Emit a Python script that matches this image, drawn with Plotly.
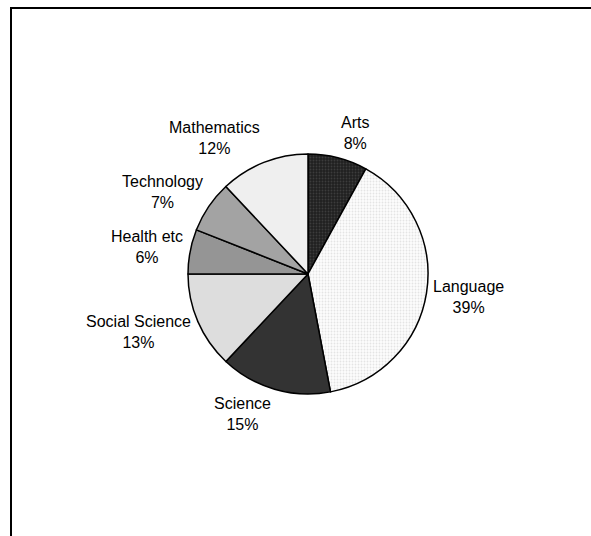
import math
import plotly.graph_objects as go

# Share of enrolments by subject area (percent)
subjects = ["Arts", "Language", "Science", "Social Science",
            "Health etc", "Technology", "Mathematics"]
shares = [8, 39, 15, 13, 6, 7, 12]

fills = ["#202020", "#fdfdfd", "#333333", "#dddddd",
         "#959595", "#a3a3a3", "#efefef"]
pattern_shapes = [".", ".", "", "", "", "", ""]
pattern_fg = ["#3c3c3c", "#e4e4e4", "#333333", "#dddddd",
              "#959595", "#a3a3a3", "#efefef"]

W, H = 591, 536
cx, cy, r = 308, 274, 120
label_gap = 5
font_size = 16
label_half_height = font_size * 1.3  # two-line label, half its height
font = dict(family="Arial, Liberation Sans, sans-serif", size=font_size, color="black")

fig = go.Figure(go.Pie(
    labels=subjects,
    values=shares,
    sort=False,
    direction="clockwise",
    rotation=0,
    textinfo="none",
    marker=dict(
        colors=fills,
        line=dict(color="black", width=1.5),
        pattern=dict(shape=pattern_shapes, fgcolor=pattern_fg,
                     bgcolor=fills, size=3, solidity=0.3),
    ),
    showlegend=False,
    hoverinfo="label+percent",
    domain=dict(x=[(cx - r) / W, (cx + r) / W],
                y=[(H - cy - r) / H, (H - cy + r) / H]),
))

# Category labels sit just outside the rim at each slice's mid-angle,
# pushed away from the pie so they never overlap it.
total = sum(shares)
annotations = []
cum = 0
for name, v in zip(subjects, shares):
    mid = (cum + v / 2) / total * 2 * math.pi
    cum += v
    s, c = math.sin(mid), math.cos(mid)
    px = cx + (r + label_gap) * s
    py = cy - (r + label_gap) * c
    xanchor = "left" if s > 0.05 else ("right" if s < -0.05 else "center")
    annotations.append(dict(
        x=px / W, y=1 - py / H, xref="paper", yref="paper",
        text=f"{name}<br>{round(v / total * 100)}%",
        showarrow=False, xanchor=xanchor, yanchor="middle",
        yshift=label_half_height * c,
        align="center", font=font,
    ))

fig.update_layout(
    width=W, height=H,
    margin=dict(l=0, r=0, t=0, b=0),
    paper_bgcolor="white",
    plot_bgcolor="white",
    annotations=annotations,
    shapes=[dict(type="rect", xref="paper", yref="paper",
                 x0=11 / W, x1=1.05, y0=-0.05, y1=(H - 8) / H,
                 line=dict(color="black", width=2))],
)

fig.write_html("out.html")
